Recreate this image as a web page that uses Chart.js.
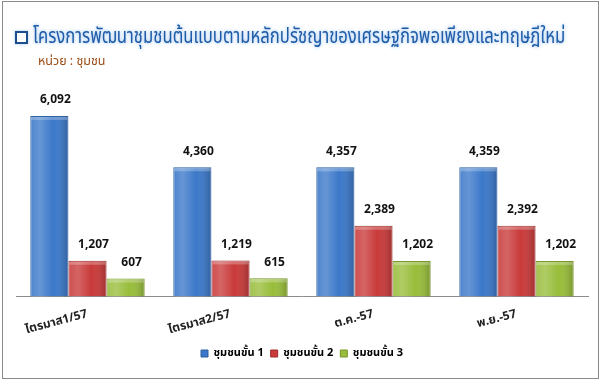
<!DOCTYPE html>
<html>
<head>
<meta charset="utf-8">
<script src="https://cdn.jsdelivr.net/npm/chart.js@4.4.0/dist/chart.umd.min.js"></script>
<style>
    html, body { margin: 0; padding: 0; background: #fff; }
    #wrap { position: relative; width: 601px; height: 380px; overflow: hidden; }
    #frame { position: absolute; left: 2px; top: 1px; width: 595px; height: 376px; border: 1px solid #8a8a8a; pointer-events: none; }
    #box { position: absolute; left: 15px; top: 31px; width: 9px; height: 9px; border: 2px solid #1d4f8f; background: #fff; box-shadow: 0 0 3px #a8c8ee; }
    #title { position: absolute; left: 33px; top: 21px; font-size: 21px; font-family: Tahoma, "Noto Sans Thai", "Noto Sans", sans-serif; color: #1f5ca8; text-shadow: 0 0 3px #a8c8ee, 0 0 6px #c4dbf4; white-space: nowrap; transform-origin: 0 0; }
    #unit { position: absolute; left: 38px; top: 52px; font-size: 12.5px; font-family: Tahoma, "Noto Sans Thai", "Noto Sans", sans-serif; color: #9b4b12; white-space: nowrap; }
</style>
</head>
<body>
<div id="wrap">
    <canvas id="chart" width="601" height="380"></canvas>
    <div id="box"></div>
    <div id="title">โครงการพัฒนาชุมชนต้นแบบตามหลักปรัชญาของเศรษฐกิจพอเพียงและทฤษฎีใหม่</div>
    <div id="unit">หน่วย : ชุมชน</div>
    <div id="frame"></div>
</div>
<script>
// ----- D A T A
const CATEGORIES = ["ไตรมาส1/57", "ไตรมาส2/57", "ต.ค.-57", "พ.ย.-57"];
const SERIES_NAMES = ["ชุมชนขั้น 1", "ชุมชนขั้น 2", "ชุมชนขั้น 3"];
const LEVEL_1 = [6092, 4360, 4357, 4359];
const LEVEL_2 = [1207, 1219, 2389, 2392];
const LEVEL_3 = [607, 615, 1202, 1202];

const COLORS = ["#3b78c9", "#c93a3a", "#98bd3a"];
const BORDERS = ["#2c5f9f", "#9e2a2a", "#76952b"];
const FONT_FAMILY = "Tahoma, 'Noto Sans Thai', 'DejaVu Sans', sans-serif";

// squeeze the heading so it spans the same width as in the original
const titleEl = document.getElementById("title");
titleEl.style.transform = `scaleX(${532 / titleEl.offsetWidth})`;

// shading so the bars look a bit like the excel 3d bars
const barShade = {
    id: "barShade",
    afterDatasetsDraw(chart) {
        const ctx = chart.ctx;
        chart.data.datasets.forEach((ds, i) => {
            chart.getDatasetMeta(i).data.forEach(bar => {
                const left = bar.x - bar.width / 2, right = bar.x + bar.width / 2;
                const g = ctx.createLinearGradient(left, 0, right, 0);
                g.addColorStop(0, "rgba(255,255,255,0.10)");
                g.addColorStop(0.25, "rgba(255,255,255,0.22)");
                g.addColorStop(0.6, "rgba(255,255,255,0.0)");
                g.addColorStop(1, "rgba(0,0,0,0.22)");
                ctx.save();
                ctx.fillStyle = g;
                ctx.fillRect(left + 1, bar.y + 1, bar.width - 2, bar.base - bar.y - 1);
                ctx.fillStyle = "rgba(255,255,255,0.25)";
                ctx.fillRect(left + 1, bar.y + 1, bar.width - 2, 3);
                ctx.restore();
            });
        });
    }
};

// value labels above each bar
const valueLabels = {
    id: "valueLabels",
    afterDatasetsDraw(chart) {
        const ctx = chart.ctx;
        ctx.save();
        ctx.font = "bold 12px " + FONT_FAMILY;
        ctx.fillStyle = "#111";
        ctx.textAlign = "center";
        ctx.textBaseline = "bottom";
        chart.data.datasets.forEach((ds, i) => {
            chart.getDatasetMeta(i).data.forEach((bar, j) => {
                ctx.fillText(ds.data[j].toLocaleString("en-US"), bar.x + 6, bar.y - 9);
            });
        });
        ctx.restore();
    }
};

const config = {
    type: "bar",
    data: {
        labels: CATEGORIES,
        datasets: [LEVEL_1, LEVEL_2, LEVEL_3].map((d, i) => ({
            label: SERIES_NAMES[i],
            data: d,
            backgroundColor: COLORS[i],
            borderColor: BORDERS[i],
            borderWidth: 1,
            categoryPercentage: 0.8,
            barPercentage: 1.0
        }))
    },
    options: {
        responsive: false,
        animation: false,
        layout: { padding: { left: 16, right: 13, top: 89, bottom: 11 } },
        plugins: {
            title: { display: false },
            tooltip: { enabled: false },
            legend: {
                position: "bottom",
                labels: {
                    boxWidth: 7,
                    boxHeight: 7,
                    padding: 7,
                    color: "#111",
                    font: { family: FONT_FAMILY, size: 11, weight: "bold" },
                    generateLabels(chart) {
                        return chart.data.datasets.map((ds, i) => ({
                            text: ds.label,
                            fillStyle: COLORS[i],
                            strokeStyle: BORDERS[i],
                            lineWidth: 1,
                            datasetIndex: i
                        }));
                    }
                }
            }
        },
        scales: {
            x: {
                grid: { display: false },
                border: { display: true, color: "#8c8c8c", width: 1 },
                ticks: {
                    minRotation: 15,
                    maxRotation: 15,
                    padding: 3,
                    color: "#222",
                    font: { family: FONT_FAMILY, size: 12, weight: "bold" }
                }
            },
            y: {
                display: false,
                min: 0,
                max: 7000
            }
        }
    },
    plugins: [barShade, valueLabels]
};

new Chart(document.getElementById("chart"), config);
</script>
</body>
</html>
